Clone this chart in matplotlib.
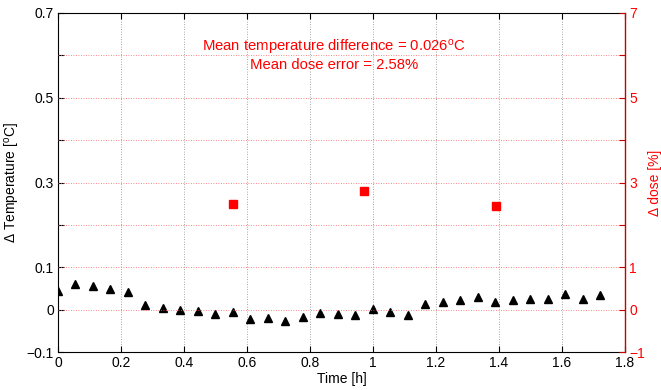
import matplotlib
matplotlib.use("Agg")
import matplotlib.pyplot as plt
import numpy as np

plt.rcParams['font.family'] = ['Liberation Sans', 'DejaVu Sans']
plt.rcParams['mathtext.fontset'] = 'custom'
plt.rcParams['mathtext.rm'] = 'Liberation Sans'
plt.rcParams['mathtext.it'] = 'Liberation Sans'

# Temperature difference measured every 1/18 h
time_h = np.arange(32) / 18.0
delta_temp = [0.045, 0.061, 0.056, 0.048, 0.042, 0.010, 0.005, -0.002,
              -0.003, -0.010, -0.006, -0.021, -0.019, -0.027, -0.017, -0.009,
              -0.010, -0.013, 0.001, -0.006, -0.013, 0.013, 0.017, 0.022,
              0.030, 0.018, 0.023, 0.026, 0.024, 0.038, 0.025, 0.035]

# Dose error at the measurement times
dose_time_h = [0.556, 0.972, 1.389]
dose_error = [2.49, 2.81, 2.45]

left_ticks = [-0.1, 0, 0.1, 0.2, 0.3, 0.4, 0.5, 0.6, 0.7]
left_labels = ['\u22120.1', '0', '0.1', '', '0.3', '', '0.5', '', '0.7']
right_ticks = [-1, 0, 1, 2, 3, 4, 5, 6, 7]
right_labels = ['\u22121', '0', '1', '', '3', '', '5', '', '7']
x_ticks = [0, 0.2, 0.4, 0.6, 0.8, 1.0, 1.2, 1.4, 1.6, 1.8]
x_labels = ['0', '0.2', '0.4', '0.6', '0.8', '1', '1.2', '1.4', '1.6', '1.8']

fig = plt.figure(figsize=(6.61, 3.90), dpi=100)
ax = fig.add_axes([0.0877, 0.0974, 0.8578, 0.8693])
ax2 = ax.twinx()

fs = 10
ax.set_xlim(0, 1.8)
ax.set_ylim(-0.1, 0.7)
ax2.set_ylim(-1, 7)

ax.set_xticks(x_ticks)
ax.set_xticklabels(x_labels, fontsize=fs)
ax.set_yticks(left_ticks)
ax.set_yticklabels(left_labels, fontsize=fs)
ax.tick_params(direction='in', length=4, width=0.8, top=True, right=False,
               colors='black', pad=3)

ax2.set_yticks(right_ticks)
ax2.set_yticklabels(right_labels, fontsize=fs)
ax2.tick_params(axis='y', direction='in', length=4, width=0.8,
                colors='#c80000', labelcolor='red', pad=3)
for s in ['left', 'top', 'bottom']:
    ax2.spines[s].set_visible(False)
ax2.spines['right'].set_color('#c80000')
ax2.spines['right'].set_linewidth(1.0)
ax.spines['right'].set_visible(False)

# grids: grey vertical, red horizontal
for xv in x_ticks[1:-1]:
    ax.axvline(xv, color='#888888', linestyle=(0, (1, 2)), linewidth=0.6, zorder=0)
for yv in right_ticks[1:-1]:
    ax2.axhline(yv, color='#ff6060', linestyle=(0, (1, 2)), linewidth=0.6, zorder=0)

ax.plot(time_h, delta_temp, linestyle='none', marker='^', markersize=6,
        color='black', zorder=3)
ax2.plot(dose_time_h, dose_error, linestyle='none', marker='s', markersize=6,
         color='red', zorder=3)

ax.set_xlabel('Time [h]', fontsize=fs, labelpad=1)
ax.set_ylabel('\u0394 Temperature [$^{o}$C]', fontsize=fs, labelpad=3)
ax2.set_ylabel('\u0394 dose [%]', fontsize=fs, color='red', labelpad=2)

ax.text(0.487, 0.885, 'Mean temperature difference = 0.026$^{o}$C',
        transform=ax.transAxes, ha='center', va='baseline', color='red',
        fontsize=10.7)
ax.text(0.487, 0.835, 'Mean dose error = 2.58%',
        transform=ax.transAxes, ha='center', va='baseline', color='red',
        fontsize=10.7)

fig.savefig('out.png', dpi=100)
